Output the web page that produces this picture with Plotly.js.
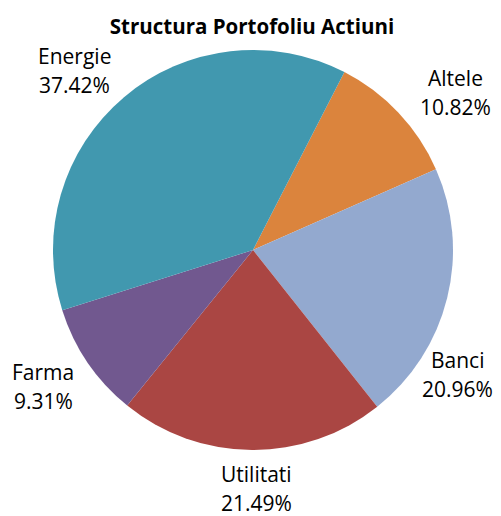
<!DOCTYPE html>
<html>
<head>
<meta charset="utf-8">
<script src="https://cdn.plot.ly/plotly-3.0.1.min.js"></script>
<style>html,body{margin:0;padding:0;background:#fff;}#chart{width:501px;height:516px;}</style>
</head>
<body>
<div id="chart"></div>
<script>
const categories = ["Altele", "Banci", "Utilitati", "Farma", "Energie"];
const shares = [10.82, 20.96, 21.49, 9.31, 37.42];
const colors = ["#DB843D", "#93A9CF", "#AA4643", "#71588F", "#4198AF"];
const chartTitle = "Structura Portofoliu Actiuni";

// style: label placement relative to each slice's mid-angle
const startAngle = 27.2;          // degrees clockwise from 12 o'clock
const labelNudge = [5.4, 17.5, -1.1, 1.2, -4.6];   // degrees
const labelDist  = [257, 239, 239, 250, 253];      // px from centre
const lineGap = 14.5;
const labelFont = {family: "'Open Sans', sans-serif", size: 21, color: "#000"};

const trace = {
  type: "pie",
  labels: categories,
  values: shares,
  sort: false,
  direction: "clockwise",
  rotation: startAngle,
  marker: {colors: colors, line: {width: 0}},
  textinfo: "none",
  hoverinfo: "label+percent",
  showlegend: false
};

const total = shares.reduce((a, b) => a + b, 0);
const annotations = [];
let cum = 0;
shares.forEach((v, i) => {
  const mid = startAngle + (cum + v / 2) / total * 360 + labelNudge[i];
  cum += v;
  const a = mid * Math.PI / 180;
  const dx = labelDist[i] * Math.sin(a);
  const dy = labelDist[i] * Math.cos(a);   // upward positive
  const pct = (v / total * 100).toFixed(2) + "%";
  [[categories[i], lineGap], [pct, -lineGap]].forEach(([t, off]) => {
    annotations.push({
      xref: "paper", yref: "paper", x: 0.5, y: 0.5,
      xshift: dx, yshift: dy + off,
      text: t, showarrow: false,
      xanchor: "center", yanchor: "middle",
      font: labelFont
    });
  });
});

const layout = {
  width: 501,
  height: 516,
  margin: {l: 53, r: 48, t: 50, b: 66},
  paper_bgcolor: "#fff",
  title: {
    text: "<b>" + chartTitle + "</b>",
    font: {family: "'Open Sans', sans-serif", size: 20.5, color: "#000"},
    x: 0.503, xanchor: "center",
    y: 1 - 27 / 516, yanchor: "middle"
  },
  annotations: annotations,
  showlegend: false
};

Plotly.newPlot("chart", [trace], layout, {displayModeBar: false, staticPlot: true});
</script>
</body>
</html>
